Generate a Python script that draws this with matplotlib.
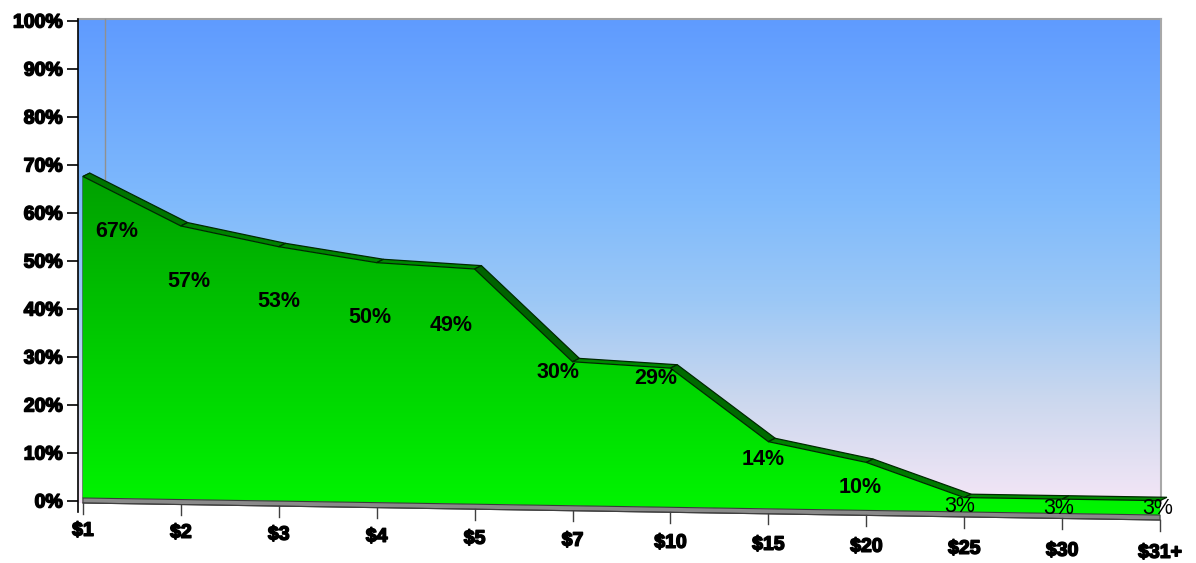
import numpy as np
import matplotlib.pyplot as plt
from matplotlib.colors import LinearSegmentedColormap
from matplotlib.patches import Polygon
import matplotlib.patheffects as pe

# Data
categories = ['$1', '$2', '$3', '$4', '$5', '$7', '$10', '$15', '$20', '$25', '$30', '$31+']
values = [67, 57, 53, 50, 49, 30, 29, 14, 10, 3, 3, 3]
labels = ['67%', '57%', '53%', '50%', '49%', '30%', '29%', '14%', '10%', '3%', '3%', '3%']
label_bold = [True] * 9 + [False] * 3

# label nudges (pixels) to mimic the 3D label placement
label_dx = [34, 8, 0, -7, -23, -14, -15, -5, -6, -5, -3, -2]
label_dy = [-55, -56, -55, -55, -56, -11, -10, -18, -25, -9, -9, -8]

# pseudo-3D geometry (data units)
skew = 0.323        # floor drops this much per category
base0 = 0.625
depth_x, depth_y = 0.07, 0.7
floor_h = 1.04

W, H = 1196, 563
ymin = -8
fig = plt.figure(figsize=(W / 100, H / 100), dpi=100)
ax = fig.add_axes([78 / W, (H - 501 + ymin * 4.8) / H, 1085 / W, (100 - ymin) * 4.8 / H])

n = len(values)
xs = np.arange(n)
base = base0 - skew * xs
tops = base + np.array(values)

# background gradient
bg_cmap = LinearSegmentedColormap.from_list('bg', [
    (0.0, '#f4e6f6'), (0.208, '#ccd8ee'), (0.417, '#9cc8f6'),
    (0.625, '#7fbafc'), (1.0, '#5f9bff')])
grad = np.linspace(0, 1, 256).reshape(-1, 1)
ax.imshow(grad, extent=(-0.05, 11.01, -0.4, 100.4), origin='lower', aspect='auto',
          cmap=bg_cmap, zorder=0, clip_on=False)
ax.plot([-0.05, 11.01], [100.4, 100.4], color='#a0a0a0', lw=1.5, zorder=1, clip_on=False)
ax.plot([11.01, 11.01], [100.4, -0.4], color='#a8a8a8', lw=1.5, zorder=1, clip_on=False)
ax.plot([0.225, 0.225], [100.4, 67], color='#909090', lw=1, zorder=1, clip_on=False)

# front face with green gradient
front_pts = list(zip(xs, tops)) + list(zip(xs[::-1], base[::-1]))
front = Polygon(front_pts, closed=True, facecolor='none', edgecolor='none', zorder=3)
ax.add_patch(front)
green_cmap = LinearSegmentedColormap.from_list('gr', ['#00f800', '#00a000'])
im = ax.imshow(grad, extent=(0, 11, -4, 68), origin='lower', aspect='auto',
               cmap=green_cmap, zorder=3)
im.set_clip_path(front)

# top band (depth face)
for i in range(n - 1):
    quad = [(xs[i], tops[i]), (xs[i + 1], tops[i + 1]),
            (xs[i + 1] + depth_x, tops[i + 1] + depth_y), (xs[i] + depth_x, tops[i] + depth_y)]
    slope = abs(values[i + 1] - values[i]) / 20.0
    g = 0.54 - 0.16 * min(slope, 1.0)
    ax.add_patch(Polygon(quad, closed=True, facecolor=(0, g, 0), edgecolor='#002800',
                         lw=0.9, zorder=4, clip_on=False))
cap = [(xs[0], tops[0]), (xs[0] + depth_x, tops[0] + depth_y),
       (xs[0] + depth_x, base[0] + depth_y), (xs[0], base[0])]
ax.add_patch(Polygon(cap, closed=True, facecolor='#008a00', edgecolor='#004000',
                     lw=0.6, zorder=2, clip_on=False))

# grey floor strip
floor_pts = list(zip(xs, base)) + list(zip(xs[::-1], base[::-1] - floor_h))
ax.add_patch(Polygon(floor_pts, closed=True, facecolor='#8a8a8a', edgecolor='#3a3a3a',
                     lw=0.8, zorder=3, clip_on=False))

# sloped x axis with ticks and labels
axis_y = base - floor_h
ax.plot(xs, axis_y, color='#404040', lw=0.8, zorder=3, clip_on=False)
stroke = [pe.withStroke(linewidth=1.1, foreground='black')]
for i in range(n):
    ax.plot([xs[i], xs[i]], [axis_y[i], axis_y[i] - 2.2], color='#404040', lw=1,
            zorder=3, clip_on=False)
    ax.text(xs[i], -6.3 - 0.417 * i, categories[i], ha='center', va='center',
            fontsize=14, fontweight='bold', family='Liberation Sans',
            parse_math=False, path_effects=stroke, clip_on=False)

# data labels
for i in range(n):
    ax.annotate(labels[i], (xs[i], tops[i]), xytext=(label_dx[i], label_dy[i]),
                textcoords='offset pixels', ha='center', va='center',
                fontsize=15.5, fontweight='bold' if label_bold[i] else 'normal',
                family='Liberation Sans', color='black', zorder=6,
                annotation_clip=False)

# y axis
ax.set_xlim(-0.05, 11.03)
ax.set_ylim(ymin, 100)
ax.set_yticks(range(0, 101, 10))
ax.set_yticklabels([f'{v}%' for v in range(0, 101, 10)])
ax.tick_params(axis='y', direction='out', length=8, width=1.2, pad=3, labelsize=14)
for t in ax.get_yticklabels():
    t.set_fontweight('bold')
    t.set_family('Liberation Sans')
    t.set_path_effects(stroke)
ax.set_xticks([])
for s in ['top', 'right', 'bottom']:
    ax.spines[s].set_visible(False)
ax.spines['left'].set_bounds(-2.3, 100.4)
ax.spines['left'].set_linewidth(1.2)
ax.patch.set_visible(False)

fig.savefig('out.png', dpi=100)
